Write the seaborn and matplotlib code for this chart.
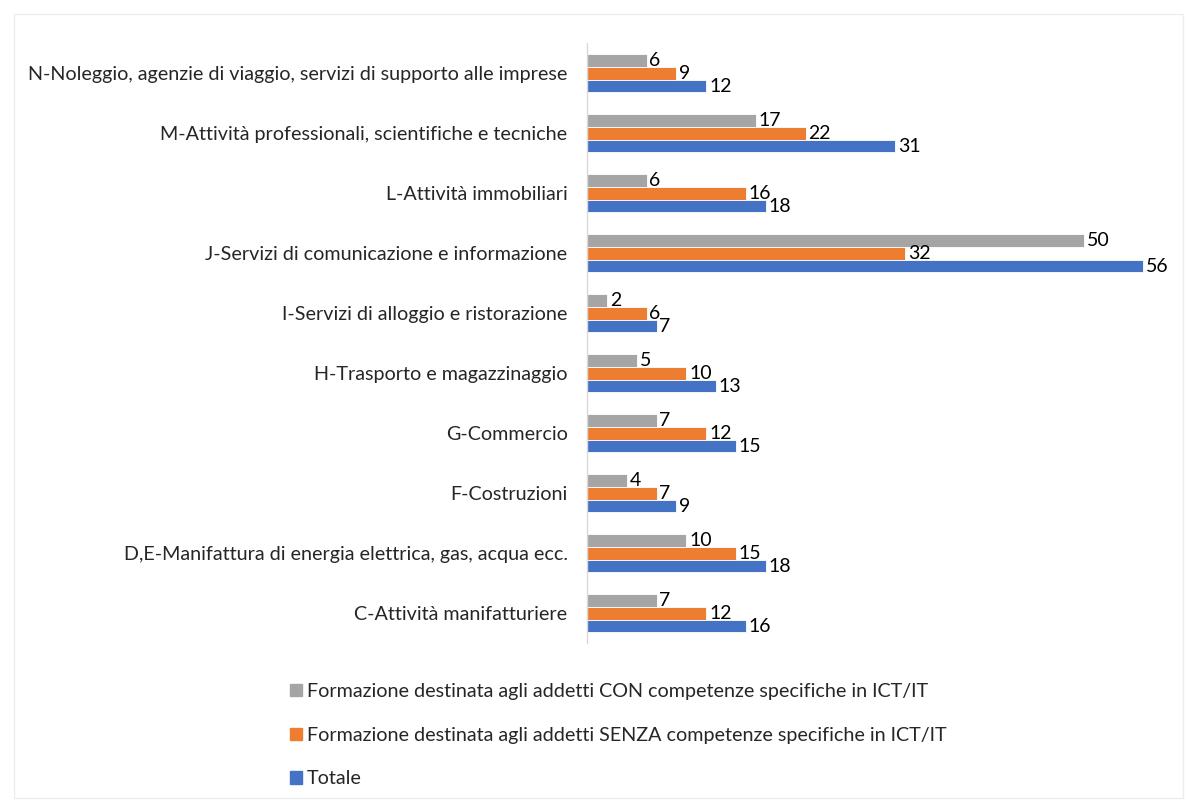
import matplotlib
matplotlib.use("Agg")
import matplotlib.pyplot as plt
import matplotlib.patches as mpatches
import seaborn as sns
import pandas as pd

categories = [
    "N-Noleggio, agenzie di viaggio, servizi di supporto alle imprese",
    "M-Attività professionali, scientifiche e tecniche",
    "L-Attività immobiliari",
    "J-Servizi di comunicazione e informazione",
    "I-Servizi di alloggio e ristorazione",
    "H-Trasporto e magazzinaggio",
    "G-Commercio",
    "F-Costruzioni",
    "D,E-Manifattura di energia elettrica, gas, acqua ecc.",
    "C-Attività manifatturiere",
]
series = [
    "Formazione destinata agli addetti CON competenze specifiche in ICT/IT",
    "Formazione destinata agli addetti SENZA competenze specifiche in ICT/IT",
    "Totale",
]
con_ict = [6, 17, 6, 50, 2, 5, 7, 4, 10, 7]
senza_ict = [9, 22, 16, 32, 6, 10, 12, 7, 15, 12]
totale = [12, 31, 18, 56, 7, 13, 15, 9, 18, 16]
colors = ["#A5A5A5", "#ED7D31", "#4472C4"]

rows = []
for name, vals in zip(series, [con_ict, senza_ict, totale]):
    for cat, v in zip(categories, vals):
        rows.append({"settore": cat, "serie": name, "valore": v})
df = pd.DataFrame(rows)

sns.set_style("white")
plt.rcParams["font.family"] = ["Lato", "DejaVu Sans"]

fig = plt.figure(figsize=(11.97, 8.0), dpi=100)
ax = fig.add_axes([0.4904, 0.196, 0.498, 0.75])

sns.barplot(data=df, y="settore", x="valore", hue="serie", order=categories,
            hue_order=series, palette=colors, saturation=1, orient="h", width=0.64,
            edgecolor="white", linewidth=0.6, legend=False, ax=ax)

for cont in ax.containers:
    ax.bar_label(cont, padding=2, fontsize=14, color="#000000")

ax.set_xlim(0, 60)
ax.set_xlabel("")
ax.set_ylabel("")
ax.set_xticks([])
ax.tick_params(axis="y", length=0, labelsize=14.2, pad=14)
for s in ["top", "right", "bottom"]:
    ax.spines[s].set_visible(False)
ax.spines["left"].set_color("#D9D9D9")
ax.spines["left"].set_linewidth(1)

handles = [mpatches.Patch(color=c, label=s) for c, s in zip(colors, series)]
fig.legend(handles=handles, loc="upper left", bbox_to_anchor=(0.236, 0.156),
           frameon=False, fontsize=14.2, handlelength=0.6, handleheight=0.6,
           handletextpad=0.25, labelspacing=1.35, borderaxespad=0)

fig.patches.append(mpatches.Rectangle((0.012, 0.003), 0.976, 0.979, transform=fig.transFigure,
                                      fill=False, edgecolor="#EDEDED", linewidth=1))

fig.savefig("out.png", dpi=100, facecolor="white")
